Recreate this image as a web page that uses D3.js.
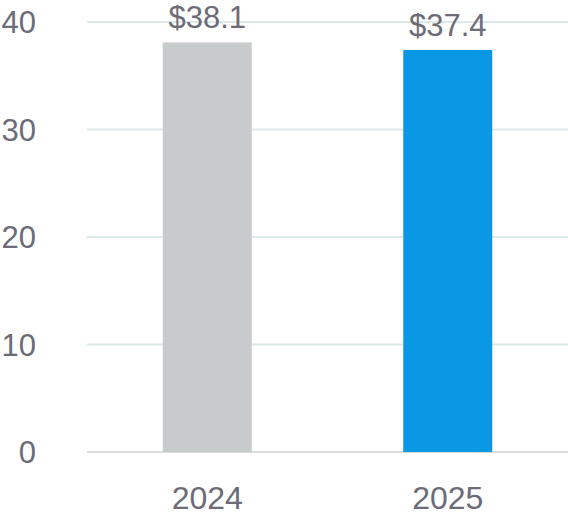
<!DOCTYPE html>
<html>
<head>
<meta charset="utf-8">
<script src="https://cdn.jsdelivr.net/npm/d3@7"></script>
<style>
  body { margin: 0; background: #fff; }
  text { font-family: "Liberation Sans", Arial, sans-serif; fill: #6c6b77; }
</style>
</head>
<body>
<script>
// chart data
var years = ["2024", "2025"];
var values = [38.1, 37.4];
var valueLabels = ["$38.1", "$37.4"];
var yTicks = [0, 10, 20, 30, 40];
var barColors = ["#c7cbcb", "#0a97e3"];

var width = 568, height = 516;
var plotLeft = 87, plotRight = 568;
var plotTop = 22, plotBottom = 452;

var svg = d3.select("body")
	.append("svg")
	.attr("width", width)
	.attr("height", height);

var x = d3.scaleBand()
	.domain(years)
	.range([plotLeft, plotRight])
	.paddingInner(0.63)
	.paddingOuter(0.315);

var y = d3.scaleLinear()
	.domain([0, 40])
	.range([plotBottom, plotTop]);

// grid lines
svg.append("g")
	.selectAll("line")
	.data(yTicks)
	.enter()
	.append("line")
	.attr("x1", plotLeft)
	.attr("x2", plotRight)
	.attr("y1", function(d) { return y(d); })
	.attr("y2", function(d) { return y(d); })
	.style("stroke", function(d) { return d === 0 ? "#d9dcdc" : "#dde9e9"; })
	.style("stroke-width", 2);

// y tick labels
svg.append("g")
	.selectAll("text")
	.data(yTicks)
	.enter()
	.append("text")
	.attr("x", 36)
	.attr("y", function(d) { return y(d); })
	.attr("dy", "0.36em")
	.style("text-anchor", "end")
	.style("font-size", "31px")
	.text(function(d) { return d; });

// bars
svg.append("g")
	.selectAll("rect")
	.data(values)
	.enter()
	.append("rect")
	.attr("x", function(d, i) { return x(years[i]); })
	.attr("y", function(d) { return y(d); })
	.attr("width", x.bandwidth())
	.attr("height", function(d) { return y(0) - y(d); })
	.style("fill", function(d, i) { return barColors[i]; });

// value labels
svg.append("g")
	.selectAll("text")
	.data(values)
	.enter()
	.append("text")
	.attr("x", function(d, i) { return x(years[i]) + x.bandwidth() / 2; })
	.attr("y", function(d) { return y(d) - 14; })
	.style("text-anchor", "middle")
	.style("font-size", "31px")
	.text(function(d, i) { return valueLabels[i]; });

// x labels
svg.append("g")
	.selectAll("text")
	.data(years)
	.enter()
	.append("text")
	.attr("x", function(d) { return x(d) + x.bandwidth() / 2; })
	.attr("y", 509)
	.style("text-anchor", "middle")
	.style("font-size", "32px")
	.text(function(d) { return d; });
</script>
</body>
</html>
